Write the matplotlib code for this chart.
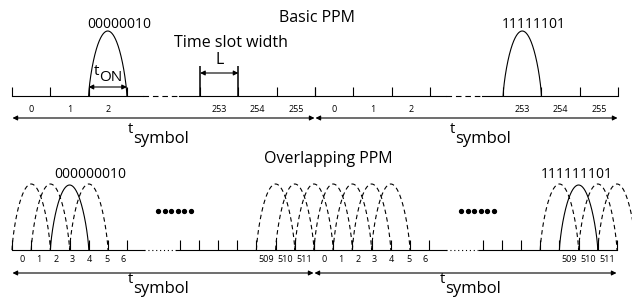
"""
Basic PPM vs overlapping PPM timing diagram.

Drawn in pixel coordinates (axes spans the whole figure, y grows downward).
"""

import matplotlib
matplotlib.use('Agg')
import matplotlib.pyplot as plt
import numpy as np

plt.rcParams['font.family'] = ['Open Sans', 'DejaVu Sans']

# ---------------------------------------------------------------------
# Diagram content
# ---------------------------------------------------------------------
# Basic PPM: 256 slots per symbol, one pulse of one slot width
basic_n_slots = 256
basic_first_labels = ['0', '1', '2']
basic_last_labels = ['253', '254', '255']
basic_symbols = ['00000010', '11111101']
basic_pulse_slots = [2, 253]

# Overlapping PPM: 512 slots per symbol, pulse spans two slots
ovl_n_slots = 512
ovl_first_labels = ['0', '1', '2', '3', '4', '5', '6']
ovl_last_labels = ['509', '510', '511']
ovl_symbols = ['000000010', '111111101']
ovl_pulse_slots = [2, 509]
ovl_dashed_slots = [[0, 1, 3, 509, 510, 511],
                    [0, 1, 2, 3, 508, 510, 511]]

# ---------------------------------------------------------------------
# Layout (pixels)
# ---------------------------------------------------------------------
W, H = 632, 299
SYM_X = [(12, 315), (315, 618)]
OVL_X = [(12, 314), (314, 617)]
BASIC_Y, OVL_Y = 96, 250
BASIC_W, OVL_W = 38.3, 19.2
TSYM_DX_TOP = [116, 135]
TSYM_DX_BOT = [116, 126]
LW = 0.8


def slot_x(k, x0, x1, w, n):
    """x position of the left edge of slot k (drawn from start or end)."""
    if k < n / 2:
        return x0 + k * w
    return x1 - (n - k) * w


def pulse(ax, xs, width, base, height, **kw):
    # steep sides at the base, rounded but narrow top
    u = np.linspace(-1, 1, 300)
    x = xs + (u + 1) / 2 * width
    y = base - height * (1 - u ** 2) ** 0.75
    ax.plot(x, y, color='black', lw=LW, **kw)


def sub_text(ax, x, y, main, sub, size_main, size_sub, dx, dy):
    ax.text(x, y, main, fontsize=size_main, va='baseline', ha='left')
    ax.text(x + dx, y + dy, sub, fontsize=size_sub, va='baseline', ha='left')


def double_arrow(ax, xa, xb, y, scale=7):
    ax.annotate('', xy=(xa, y), xytext=(xb, y),
                arrowprops=dict(arrowstyle='<|-|>', mutation_scale=scale,
                                lw=LW, color='black',
                                shrinkA=0, shrinkB=0))


def timeline(ax, x0, x1, y, w, n, n_first, n_last, tick_h, gap, gap_style):
    first_end = x0 + (n_first - 1) * w
    last_start = x1 - n_last * w
    g0 = first_end + gap[0]
    g1 = last_start - gap[1]
    ax.plot([x0, g0], [y, y], color='black', lw=LW)
    ax.plot([g0, g1], [y, y], color='black', lw=LW, linestyle=gap_style)
    ax.plot([g1, x1], [y, y], color='black', lw=LW)
    ticks = [x0 + i * w for i in range(n_first)]
    ticks += [x1 - j * w for j in range(n_last + 1)]
    ax.vlines(ticks, y - tick_h, y, color='black', lw=LW)


fig = plt.figure(figsize=(W / 100, H / 100), dpi=100)
ax = fig.add_axes([0, 0, 1, 1])
ax.set_xlim(0, W)
ax.set_ylim(H, 0)
ax.axis('off')

# ---------------------------------------------------------------------
# Basic PPM
# ---------------------------------------------------------------------
ax.text(317, 22, 'Basic PPM', fontsize=11.5, ha='center', va='baseline')
for s, (x0, x1) in enumerate(SYM_X):
    timeline(ax, x0, x1, BASIC_Y, BASIC_W, basic_n_slots,
             4, 3, 9, (16, 21), (0, (5, 3.5)))
    for i, lab in enumerate(basic_first_labels):
        ax.text(x0 + (i + 0.5) * BASIC_W, 112, lab, fontsize=6.5,
                ha='center', va='baseline')
    for j, lab in enumerate(basic_last_labels):
        ax.text(x1 - (len(basic_last_labels) - j - 0.5) * BASIC_W, 112, lab,
                fontsize=6.5, ha='center', va='baseline')
    xp = slot_x(basic_pulse_slots[s], x0, x1, BASIC_W, basic_n_slots)
    pulse(ax, xp, BASIC_W, BASIC_Y, 65)
    ax.text(xp + BASIC_W / 2 + 12, 28, basic_symbols[s], fontsize=10,
            ha='center', va='baseline')
    double_arrow(ax, x0 + 0.5, x1 - 0.5, 118)
    sub_text(ax, x0 + TSYM_DX_TOP[s], 133, 't', 'symbol', 10.5, 12, 5, 10)

# time slot width marker (slot 253 of first symbol)
x0, x1 = SYM_X[0]
xs = slot_x(253, x0, x1, BASIC_W, basic_n_slots)
ax.vlines([xs, xs + BASIC_W], 66, BASIC_Y, color='black', lw=1.1)
double_arrow(ax, xs, xs + BASIC_W, 73)
ax.text(231, 47, 'Time slot width', fontsize=11.5, ha='center',
        va='baseline')
ax.text(220, 64, 'L', fontsize=11.5, ha='center', va='baseline')

# t_ON marker on the first pulse
xp = slot_x(basic_pulse_slots[0], x0, x1, BASIC_W, basic_n_slots)
double_arrow(ax, xp, xp + BASIC_W, 87)
sub_text(ax, xp + 5, 75, 't', 'ON', 11, 11, 6, 6)

# ---------------------------------------------------------------------
# Overlapping PPM
# ---------------------------------------------------------------------
ax.text(328, 163, 'Overlapping PPM', fontsize=11.5, ha='center',
        va='baseline')
for s, (x0, x1) in enumerate(OVL_X):
    timeline(ax, x0, x1, OVL_Y, OVL_W, ovl_n_slots,
             7, 7, 10, (17, 4), (0, (1, 2.5)))
    for i, lab in enumerate(ovl_first_labels):
        ax.text(x0 + 10 + i * 16.9, 262, lab, fontsize=6.5,
                ha='center', va='baseline')
    for j, lab in enumerate(ovl_last_labels):
        ax.text(x1 - (len(ovl_last_labels) - j - 0.5) * OVL_W, 262, lab,
                fontsize=6.5, ha='center', va='baseline')
    for k in ovl_dashed_slots[s]:
        xd = slot_x(k, x0, x1, OVL_W, ovl_n_slots)
        pulse(ax, xd, 2 * OVL_W, OVL_Y, 66, linestyle=(0, (4, 3)))
    xp = slot_x(ovl_pulse_slots[s], x0, x1, OVL_W, ovl_n_slots)
    pulse(ax, xp, 2 * OVL_W, OVL_Y, 65)
    ax.text(xp + OVL_W + (21 if s == 0 else -2), 178, ovl_symbols[s],
            fontsize=10, ha='center', va='baseline')
    # "......" between the first and last slots
    dots_x = x0 + 146 + np.arange(6) * 6.6 + (s * 1)
    ax.plot(dots_x, np.full(6, 211), 'o', color='black', markersize=2.8)
    double_arrow(ax, x0 + 0.5, x1 - 0.5, 273)
    sub_text(ax, x0 + TSYM_DX_BOT[s], 283, 't', 'symbol', 10.5, 12, 5, 10)

fig.savefig('out.png', dpi=100)
